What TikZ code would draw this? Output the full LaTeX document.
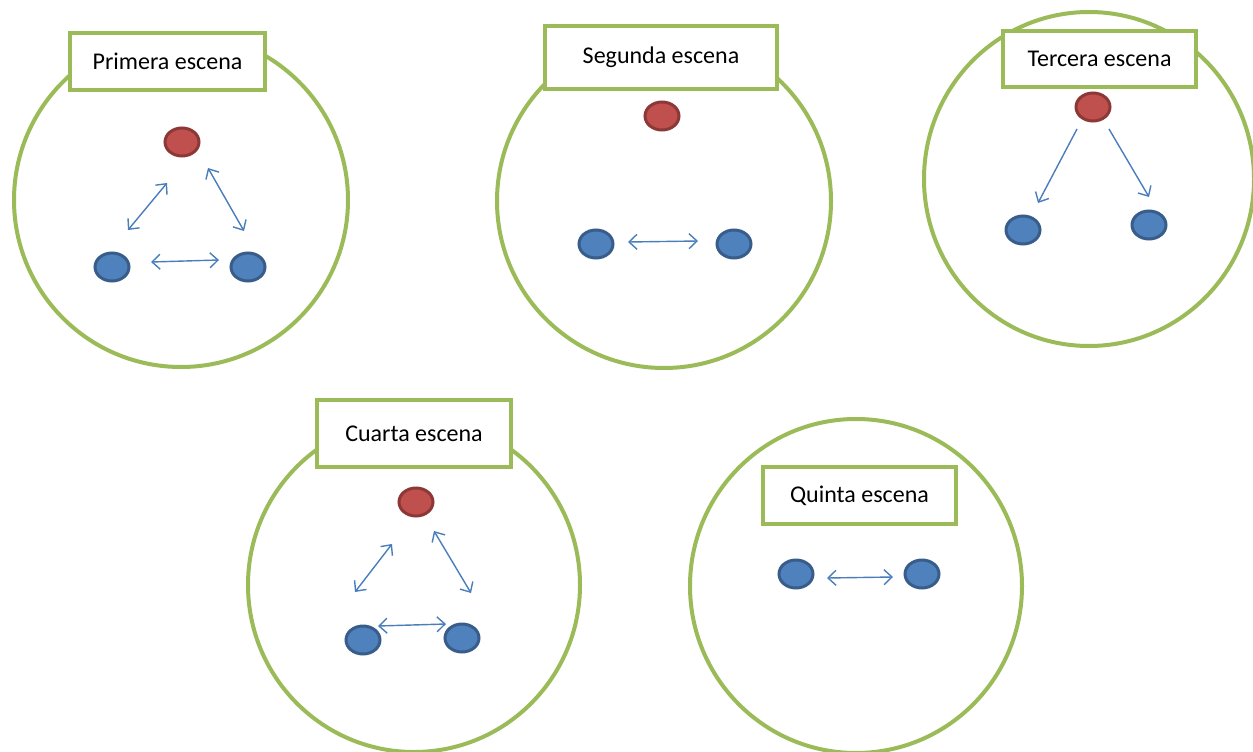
\documentclass[tikz,border=0pt]{standalone}
\usepackage{fontspec}
\setmainfont{Carlito}
\usetikzlibrary{shapes.geometric,arrows.meta}
\definecolor{sgreen}{HTML}{9BBB59}
\definecolor{sred}{HTML}{C0504D}
\definecolor{sredd}{HTML}{8C3836}
\definecolor{sblue}{HTML}{4F81BD}
\definecolor{sblued}{HTML}{385D8A}
\definecolor{sarrow}{HTML}{4A7EBB}
\tikzset{
  scene/.style={draw=sgreen,line width=4pt},
  titlebox/.style={draw=sgreen,line width=4.5pt,fill=white,inner sep=0pt,font=\fontsize{24}{28}\selectfont},
  reddot/.style={ellipse,draw=sredd,fill=sred,line width=3pt,minimum width=34pt,minimum height=28pt,inner sep=0pt},
  bluedot/.style={ellipse,draw=sblued,fill=sblue,line width=3pt,minimum width=34pt,minimum height=28pt,inner sep=0pt},
  link/.style={draw=sarrow,line width=1.4pt,{Straight Barb[length=8pt,width=15pt]}-{Straight Barb[length=8pt,width=15pt]}},
  onelink/.style={draw=sarrow,line width=1.4pt,-{Straight Barb[length=8pt,width=15pt]}}
}
\begin{document}
\begin{tikzpicture}[x=1pt,y=-1pt]
\useasboundingbox (0,0) rectangle (1253,752);
% circles
\draw[scene] (181,200) ellipse[x radius=167,y radius=167];
\draw[scene] (664,201) ellipse[x radius=167,y radius=167];
\draw[scene] (1089,179) ellipse[x radius=165,y radius=167];
\draw[scene] (414,585) ellipse[x radius=166,y radius=167];
\draw[scene] (856,586) ellipse[x radius=166,y radius=167];
% title boxes
\node[titlebox,minimum width=195pt,minimum height=57pt] (t1) at (167.5,61.5) {Primera escena};
\node[titlebox,minimum width=232pt,minimum height=63pt] (t2) at (661,57.5) {Segunda escena};
\node[titlebox,minimum width=193pt,minimum height=56pt] (t3) at (1099.5,59) {Tercera escena};
\node[titlebox,minimum width=194pt,minimum height=67pt] (t4) at (414,433.5) {Cuarta escena};
\node[titlebox,minimum width=193pt,minimum height=57pt] (t5) at (859.5,495.5) {Quinta escena};
% scene 1
\node[reddot] (r1) at (182,142) {};
\node[bluedot] (b1a) at (112,267) {};
\node[bluedot] (b1b) at (248,267) {};
\coordinate (p1a) at (128,230); \coordinate (p1b) at (167,183);
\coordinate (p1c) at (208,168); \coordinate (p1d) at (244,231);
\coordinate (p1e) at (151,262); \coordinate (p1f) at (219,260);
\draw[link] (p1a) -- (p1b);
\draw[link] (p1c) -- (p1d);
\draw[link] (p1e) -- (p1f);
% scene 2
\node[reddot] (r2) at (662,116) {};
\node[bluedot] (b2a) at (596,244) {};
\node[bluedot] (b2b) at (734,244) {};
\coordinate (p2a) at (628,242); \coordinate (p2b) at (698,241);
\draw[link] (p2a) -- (p2b);
% scene 3
\node[reddot] (r3) at (1093,107) {};
\node[bluedot] (b3a) at (1023,230) {};
\node[bluedot] (b3b) at (1149,225) {};
\coordinate (p3a) at (1077,129); \coordinate (p3b) at (1038,203);
\coordinate (p3c) at (1109,129); \coordinate (p3d) at (1149,197);
\draw[onelink] (p3a) -- (p3b);
\draw[onelink] (p3c) -- (p3d);
% scene 4
\node[reddot] (r4) at (416,502) {};
\node[bluedot] (b4a) at (363,640) {};
\node[bluedot] (b4b) at (462,638) {};
\coordinate (p4a) at (355,592); \coordinate (p4b) at (392,544);
\coordinate (p4c) at (434,531); \coordinate (p4d) at (471,593);
\coordinate (p4e) at (378,626); \coordinate (p4f) at (446,624);
\draw[link] (p4a) -- (p4b);
\draw[link] (p4c) -- (p4d);
\draw[link] (p4e) -- (p4f);
% scene 5
\node[bluedot] (b5a) at (796,574) {};
\node[bluedot] (b5b) at (922,574) {};
\coordinate (p5a) at (827,578); \coordinate (p5b) at (893,577);
\draw[link] (p5a) -- (p5b);
\end{tikzpicture}
\end{document}
